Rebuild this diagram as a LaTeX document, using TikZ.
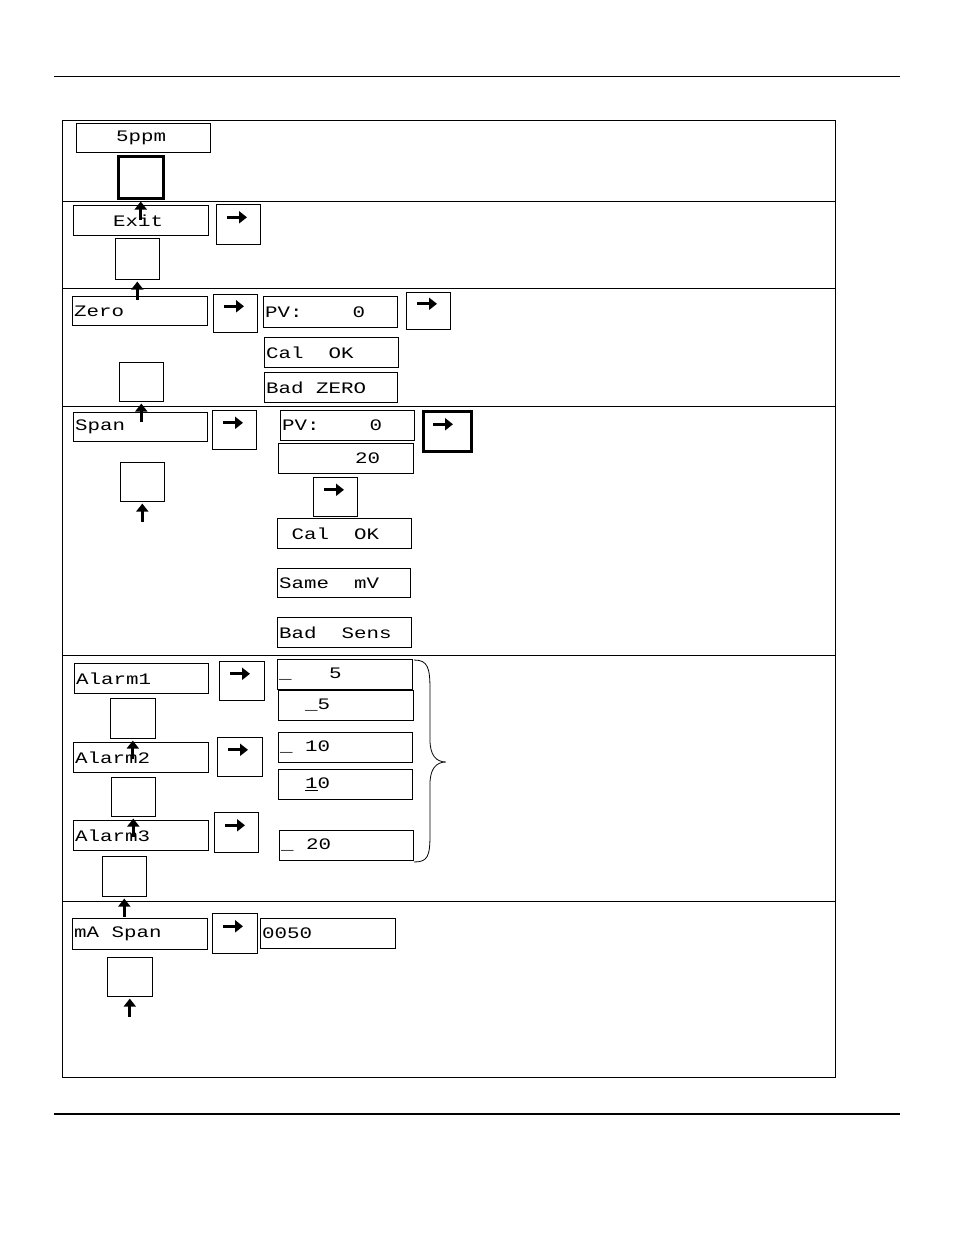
\documentclass[tikz,border=0pt]{standalone}
\usepackage{fontspec}
\newfontfamily\lcdf[FakeStretch=1.3]{Liberation Mono}
\usetikzlibrary{arrows.meta,decorations.pathreplacing}
\tikzset{
  frame/.style={draw,line width=0.8pt},
  lcdtext/.style={font=\lcdf\fontsize{16}{16}\selectfont,inner sep=0pt,anchor=west},
  arr/.style={line width=3.2pt,-{Triangle[length=8pt,width=12pt]}},
}
% \lcdbox{name}{x1}{y1}{x2}{y2}{text}{offset}
\newcommand\lcdbox[7]{%
  \node[frame,minimum width={#4-#2},minimum height={#5-#3},anchor=north west,inner sep=0pt] (#1) at (#2,#3) {};
  \node[lcdtext] (#1t) at ([xshift=#7]#1.west) {#6};}
\newcommand\rbtn[6]{%
  \node[draw,line width=#6,minimum width={#4-#2},minimum height={#5-#3},anchor=north west,inner sep=0pt] (#1) at (#2,#3) {};
  \draw[arr] ($(#1.south west)!0.5!(#1.north west)+(11,-7)$) -- ++(20,0);}
\newcommand\dbtn[6]{%
  \node[draw,line width=#6,minimum width={#4-#2},minimum height={#5-#3},anchor=north west,inner sep=0pt] (#1) at (#2,#3) {};
  \draw[arr] ($(#1.south)+(0,20)$) -- ++(0,-18);}
\usetikzlibrary{calc}
\begin{document}
\begin{tikzpicture}[x=1pt,y=-1pt]
\useasboundingbox (0,0) rectangle (954,1235);
\draw[line width=0.8pt] (54,76) -- (900,76);
\draw[line width=1.5pt] (54,1114) -- (900,1114);
\draw[line width=1pt] (62,120) rectangle (835,1077);
\foreach \yy in {201,288,406,655,901} \draw[line width=1pt] (62,\yy) -- (835,\yy);
% section 1
\lcdbox{ppm}{76}{123}{210}{152}{5ppm}{40}
\dbtn{d1}{117}{155}{162}{197}{2.5pt}
% exit
\lcdbox{exit}{73}{205}{208}{235}{Exit}{40}
\rbtn{r2}{216}{204}{260}{244}{0.6pt}
\dbtn{d2}{115}{238}{159}{279}{0.6pt}
% zero
\lcdbox{zero}{72}{296}{207}{325}{Zero}{2}
\rbtn{r3}{213}{294}{257}{332}{0.6pt}
\lcdbox{pv1}{263}{296}{397}{327}{PV:\ \ \ \ 0}{2}
\rbtn{r3b}{406}{292}{450}{329}{0.6pt}
\lcdbox{cal1}{264}{337}{398}{367}{Cal\ \ OK}{2}
\lcdbox{bad1}{264}{372}{397}{402}{Bad ZERO}{2}
\dbtn{d3}{119}{362}{163}{401}{0.6pt}
% span
\lcdbox{span}{73}{412}{207}{441}{Span}{2}
\rbtn{r4}{212}{410}{256}{449}{0.6pt}
\lcdbox{pv2}{280}{410}{414}{440}{PV:\ \ \ \ 0}{2}
\rbtn{r4b}{422}{410}{470}{450}{2.5pt}
\lcdbox{twenty}{278}{443}{413}{473}{\ \ \ \ \ \ 20}{2}
\rbtn{r4c}{313}{477}{357}{516}{0.6pt}
\lcdbox{cal2}{277}{518}{411}{548}{\ Cal\ \ OK}{2}
\lcdbox{same}{277}{568}{410}{597}{Same\ \ mV}{2}
\lcdbox{bads}{277}{617}{411}{647}{Bad\ \ Sens}{2}
\dbtn{d4}{120}{462}{164}{501}{0.6pt}
% alarms
\lcdbox{al1}{74}{663}{208}{693}{Alarm1}{2}
\rbtn{r5}{219}{661}{264}{700}{0.6pt}
\dbtn{d5}{110}{698}{155}{738}{0.6pt}
\lcdbox{al2}{73}{742}{208}{772}{Alarm2}{2}
\rbtn{r6}{217}{737}{262}{776}{0.6pt}
\dbtn{d6}{111}{777}{155}{816}{0.6pt}
\lcdbox{al3}{73}{820}{208}{850}{Alarm3}{2}
\rbtn{r7}{214}{812}{258}{852}{0.6pt}
\dbtn{d7}{102}{856}{146}{896}{0.6pt}
\lcdbox{v1}{277}{659}{412}{689}{\_\ \ \ 5}{2}
\lcdbox{v2}{278}{690}{413}{720}{\ \ \_5}{2}
\lcdbox{v3}{278}{732}{412}{762}{\_\ 10}{2}
\lcdbox{v4}{278}{769}{412}{799}{\ \ \underline{1}0}{2}
\lcdbox{v5}{279}{830}{413}{860}{\_\ 20}{2}
\draw[line width=0.8pt] (414,660) .. controls (428,660) and (430,668) .. (430,690) -- (430,740) .. controls (430,755) and (436,762) .. (446,762) .. controls (436,762) and (430,769) .. (430,784) -- (430,834) .. controls (430,856) and (428,862) .. (414,862);
% mA span
\lcdbox{ma}{72}{918}{207}{949}{mA Span}{2}
\rbtn{r8}{212}{913}{257}{953}{0.6pt}
\lcdbox{val}{260}{918}{395}{948}{0050}{2}
\dbtn{d8}{107}{957}{152}{996}{0.6pt}
\end{tikzpicture}
\end{document}
